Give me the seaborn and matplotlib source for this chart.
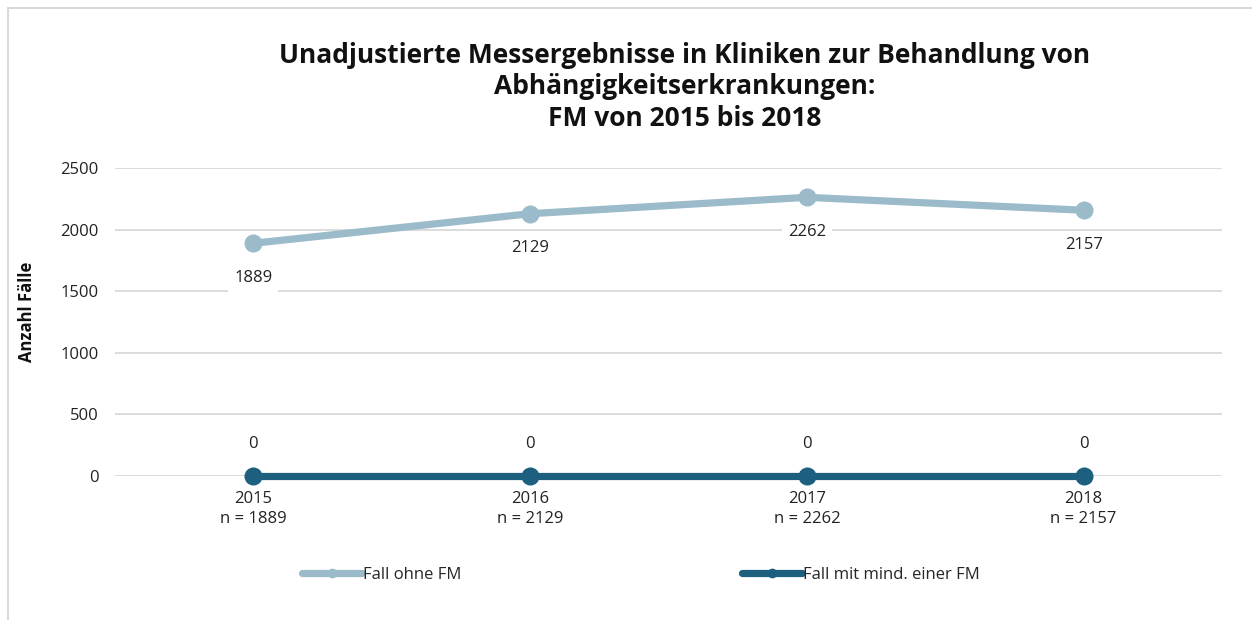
import matplotlib
matplotlib.use('Agg')
import matplotlib.pyplot as plt
import seaborn as sns
import pandas as pd
from matplotlib.lines import Line2D
from matplotlib.patches import Rectangle

# Chart data
years = ['2015', '2016', '2017', '2018']
n_cases = [1889, 2129, 2262, 2157]
ohne_fm = [1889, 2129, 2262, 2157]
mit_fm = [0, 0, 0, 0]
series_names = ['Fall ohne FM', 'Fall mit mind. einer FM']
y_ticks = [0, 500, 1000, 1500, 2000, 2500]

col_light = '#9bbbcb'
col_dark = '#1d5f7e'

sns.set_theme(style='white')
plt.rcParams['font.family'] = ['Open Sans', 'DejaVu Sans']

df = pd.DataFrame({
    'pos': list(range(len(years))) * 2,
    'value': ohne_fm + mit_fm,
    'series': [series_names[0]] * 4 + [series_names[1]] * 4,
})

fig = plt.figure(figsize=(12.52, 6.2), dpi=100)
ax = fig.add_axes([115 / 1252, 1 - 476 / 620, 1107 / 1252, 308 / 620])

sns.lineplot(data=df, x='pos', y='value', hue='series',
             palette=[col_light, col_dark], linewidth=5.2, marker='o',
             markersize=13, markeredgewidth=0, legend=False, ax=ax)
for line in ax.lines:
    line.set_clip_on(False)
    line.set_solid_capstyle('round')

ax.set_xlim(-0.5, 3.5)
ax.set_ylim(0, 2500)
ax.set_yticks(y_ticks)
ax.set_yticklabels([str(t) for t in y_ticks], fontsize=12, color='#222222')
ax.set_xticks(range(len(years)))
ax.set_xticklabels([f'{y}\nn = {n}' for y, n in zip(years, n_cases)],
                   fontsize=12, color='#222222', linespacing=1.3)
ax.tick_params(axis='both', length=0, pad=12)
ax.tick_params(axis='x', pad=11)
ax.grid(axis='y', color='#d9d9d9', linewidth=1.3)
ax.set_axisbelow(True)
for s in ax.spines.values():
    s.set_visible(False)
ax.set_xlabel('')
ax.set_ylabel('')

# data labels
for i, v in enumerate(ohne_fm):
    ax.annotate(str(v), (i, v), xytext=(0, -25), textcoords='offset points',
                ha='center', va='center', fontsize=12, color='#222222',
                bbox=dict(boxstyle='square,pad=0.35', fc='white', ec='none'))
for i, v in enumerate(mit_fm):
    ax.annotate(str(v), (i, v), xytext=(0, 23), textcoords='offset points',
                ha='center', va='center', fontsize=12, color='#222222')

fig.text(27 / 1252, 1 - 312 / 620, 'Anzahl Fälle', rotation=90, ha='center',
         va='center', fontsize=12, fontweight='bold', color='#111111')

fig.text(685 / 1252, 1 - 87 / 620,
         'Unadjustierte Messergebnisse in Kliniken zur Behandlung von\n'
         'Abhängigkeitserkrankungen:\nFM von 2015 bis 2018',
         ha='center', va='center', fontsize=19, fontweight='bold',
         color='#111111', linespacing=1.22)

handles = [Line2D([0], [0], color=col_light, lw=5.2, marker='o', markersize=6,
                  solid_capstyle='round'),
           Line2D([0], [0], color=col_dark, lw=5.2, marker='o', markersize=6,
                  solid_capstyle='round')]
fig.legend(handles, series_names, loc='center', bbox_to_anchor=(641 / 1252, 1 - 575 / 620),
           ncol=2, frameon=False, fontsize=12, handlelength=3.6,
           handletextpad=0.1, columnspacing=16.8)

# chart border (partially visible)
fig.patches.append(Rectangle((8 / 1252, -0.1), 1.2, 1 - 8 / 620 + 0.1,
                             transform=fig.transFigure, fill=False,
                             ec='#d9d9d9', lw=1.5))

fig.savefig('out.png', dpi=100)
plt.close(fig)
